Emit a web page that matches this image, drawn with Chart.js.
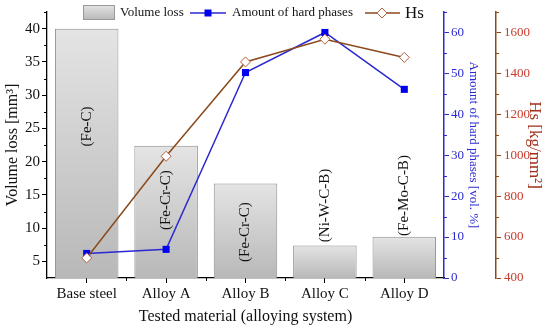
<!DOCTYPE html>
<html>
<head>
<meta charset="utf-8">
<script src="https://cdn.jsdelivr.net/npm/chart.js@4.4.1/dist/chart.umd.min.js"></script>
<style>
  html, body { margin: 0; padding: 0; background: #fff; }
  #wrap { width: 550px; height: 330px; position: relative; }
</style>
</head>
<body>
<div id="wrap"><canvas id="chart"></canvas></div>
<script>
// --- data ---
var CATEGORIES  = ["Base steel", "Alloy A", "Alloy B", "Alloy C", "Alloy D"];
var SYSTEMS     = ["(Fe-C)", "(Fe-Cr-C)", "(Fe-Cr-C)", "(Ni-W-C-B)", "(Fe-Mo-C-B)"];
var VOLUME_LOSS = [40, 22.4, 16.7, 7.4, 8.7];      // mm3, left axis
var HARD_PHASES = [6, 7, 50.2, 60, 46.1];          // vol. %, blue axis
var HS          = [498, 995, 1456, 1567, 1478];    // kg/mm2, brown axis
var LEFT_TICKS  = [5, 10, 15, 20, 25, 30, 35, 40];
var PHASE_TICKS = [0, 10, 20, 30, 40, 50, 60];
var HS_TICKS    = [400, 600, 800, 1000, 1200, 1400, 1600];

var SERIF = "'Liberation Serif', 'Times New Roman', serif";
var BLUE = "#2a2ad0", BROWN = "#8a4a1c", RED = "#c83a2a";

function barGradient(ctx, top, bottom) {
  var g = ctx.createLinearGradient(0, top, 0, bottom);
  g.addColorStop(0, "#e4e4e4");
  g.addColorStop(1, "#b8b8b8");
  return g;
}

function fixedTicks(list) {
  return function (sc) { sc.ticks = list.map(function (v) { return { value: v }; }); };
}

// rotated system labels, minor ticks and the legend
var extras = {
  id: "extras",
  afterDatasetDraw: function (chart, args, opts) {
    if (args.index !== 0) return;
    var ctx = chart.ctx, x = chart.scales.x, y = chart.scales.y;
    ctx.save();
    ctx.font = "15px " + SERIF;
    ctx.fillStyle = "#111";
    ctx.textAlign = "center";
    ctx.textBaseline = "middle";
    SYSTEMS.forEach(function (s, i) {
      ctx.save();
      ctx.translate(x.getPixelForValue(i), y.getPixelForValue(opts.labelAt[i]));
      ctx.rotate(-Math.PI / 2);
      ctx.fillText(s, 0, 0);
      ctx.restore();
    });
    ctx.restore();
  },
  afterDraw: function (chart) {
    var ctx = chart.ctx, a = chart.chartArea, s = chart.scales;
    ctx.save();
    ctx.lineWidth = 1;
    // minor ticks
    function vMinor(scale, vals, color) {
      ctx.strokeStyle = color;
      var edge = scale.position === "left" ? scale.right : scale.left;
      var dir = scale.position === "left" ? -1 : 1;
      vals.forEach(function (v) {
        var py = Math.round(scale.getPixelForValue(v)) + 0.5;
        ctx.beginPath(); ctx.moveTo(edge, py); ctx.lineTo(edge + dir * 3, py); ctx.stroke();
      });
    }
    vMinor(s.y, [7.5, 12.5, 17.5, 22.5, 27.5, 32.5, 37.5, 42.5], "#000");
    vMinor(s.y1, [5, 15, 25, 35, 45, 55, 65], BLUE);
    vMinor(s.y2, [500, 700, 900, 1100, 1300, 1500, 1700], BROWN);
    ctx.strokeStyle = "#000";
    var half = (s.x.getPixelForValue(1) - s.x.getPixelForValue(0)) / 2;
    for (var i = 0; i < CATEGORIES.length - 1; i++) {
      var px = Math.round(s.x.getPixelForValue(i) + half) + 0.5;
      ctx.beginPath(); ctx.moveTo(px, a.bottom); ctx.lineTo(px, a.bottom + 3); ctx.stroke();
    }

    // legend
    var ly = 13;
    ctx.fillStyle = barGradient(ctx, 5, 20);
    ctx.fillRect(83, 5, 32, 15);
    ctx.strokeStyle = "#999";
    ctx.strokeRect(83.5, 5.5, 31, 14);
    ctx.fillStyle = "#111";
    ctx.textBaseline = "middle";
    ctx.textAlign = "left";
    ctx.font = "13px " + SERIF;
    ctx.fillText("Volume loss", 120, ly);

    ctx.strokeStyle = BLUE; ctx.lineWidth = 1.5;
    ctx.beginPath(); ctx.moveTo(190, ly); ctx.lineTo(226, ly); ctx.stroke();
    ctx.fillStyle = "#0000ee";
    ctx.fillRect(204.5, ly - 3.5, 7, 7);
    ctx.fillStyle = "#111";
    ctx.fillText("Amount of hard phases", 232, ly);

    ctx.strokeStyle = BROWN;
    ctx.beginPath(); ctx.moveTo(365, ly); ctx.lineTo(400, ly); ctx.stroke();
    ctx.fillStyle = "#fff"; ctx.strokeStyle = "#b0603a"; ctx.lineWidth = 1;
    ctx.beginPath();
    ctx.moveTo(382, ly - 5); ctx.lineTo(387, ly); ctx.lineTo(382, ly + 5); ctx.lineTo(377, ly);
    ctx.closePath(); ctx.fill(); ctx.stroke();
    ctx.fillStyle = "#111";
    ctx.font = "17px " + SERIF;
    ctx.fillText("Hs", 405, ly + 1);
    ctx.restore();
  }
};

new Chart(document.getElementById("chart"), {
  type: "bar",
  plugins: [extras],
  data: {
    labels: CATEGORIES,
    datasets: [
      {
        type: "bar",
        label: "Volume loss",
        data: VOLUME_LOSS,
        yAxisID: "y",
        base: 2.5,
        order: 3,
        barPercentage: 0.8,
        categoryPercentage: 1,
        borderColor: "#8f8f8f",
        borderWidth: 1,
        backgroundColor: function (c) {
          var chart = c.chart;
          if (!chart.chartArea || c.type !== "data") return "#ccc";
          var top = chart.scales.y.getPixelForValue(c.raw);
          return barGradient(chart.ctx, top, chart.chartArea.bottom);
        }
      },
      {
        type: "line",
        label: "Amount of hard phases",
        data: HARD_PHASES,
        yAxisID: "y1",
        order: 2,
        borderColor: BLUE,
        borderWidth: 1.5,
        pointStyle: "rect",
        pointRadius: 5,
        pointBackgroundColor: "#0000ee",
        pointBorderColor: "#0000ee",
        pointBorderWidth: 0
      },
      {
        type: "line",
        label: "Hs",
        data: HS,
        yAxisID: "y2",
        order: 1,
        borderColor: BROWN,
        borderWidth: 1.5,
        pointStyle: "rectRot",
        pointRadius: 5,
        pointBackgroundColor: "#fff",
        pointBorderColor: "#b0603a",
        pointBorderWidth: 1
      }
    ]
  },
  options: {
    responsive: true,
    maintainAspectRatio: false,
    animation: false,
    layout: { padding: { top: 12, right: 0, left: 0, bottom: 0 } },
    plugins: {
      legend: { display: false },
      tooltip: { enabled: false },
      extras: { labelAt: [25.3, 14.2, 9.4, 13.4, 14.9] }
    },
    scales: {
      x: {
        offset: true,
        grid: { drawOnChartArea: false, offset: false, tickLength: 5, color: "#000" },
        border: { color: "#000", width: 1.3 },
        ticks: { color: "#111", padding: 2, font: { family: SERIF, size: 15 } },
        title: { display: true, text: "Tested material (alloying system)", color: "#111",
                 font: { family: SERIF, size: 16 }, padding: { top: 0, bottom: 4 } },
        afterFit: function (sc) { sc.height = 52; }
      },
      y: {
        position: "left",
        min: 2.5, max: 42.5,
        afterBuildTicks: fixedTicks(LEFT_TICKS),
        grid: { drawOnChartArea: false, tickLength: 5, color: "#000" },
        border: { color: "#000", width: 1.3 },
        ticks: { color: "#111", padding: 2, font: { family: SERIF, size: 15 } },
        title: { display: true, text: "Volume loss [mm\u00b3]", color: "#111",
                 font: { family: SERIF, size: 16 }, padding: { top: 3, bottom: 0 } },
        afterFit: function (sc) { sc.width = 47; }
      },
      y1: {
        position: "right",
        weight: 0,
        min: 0, max: 65,
        afterBuildTicks: fixedTicks(PHASE_TICKS),
        grid: { drawOnChartArea: false, tickLength: 5, color: BLUE },
        border: { color: BLUE, width: 1.5 },
        ticks: { color: BLUE, padding: 2, font: { family: SERIF, size: 13 },
                 callback: function (v) { return String(v); } },
        title: { display: true, text: "Amount of hard phases [vol. %]", color: BLUE,
                 font: { family: SERIF, size: 13 }, padding: { top: 15, bottom: 0 } },
        afterFit: function (sc) { sc.width = 52; }
      },
      y2: {
        position: "right",
        weight: 1,
        min: 400, max: 1700,
        afterBuildTicks: fixedTicks(HS_TICKS),
        grid: { drawOnChartArea: false, tickLength: 5, color: BROWN },
        border: { color: BROWN, width: 1.5 },
        ticks: { color: RED, padding: 3, font: { family: SERIF, size: 13 },
                 callback: function (v) { return String(v); } },
        title: { display: true, text: "Hs [kg/mm\u00b2]", color: "#a0301c",
                 font: { family: SERIF, size: 17 }, padding: { top: 5, bottom: 0 } },
        afterFit: function (sc) { sc.width = 54; }
      }
    }
  }
});
</script>
</body>
</html>
